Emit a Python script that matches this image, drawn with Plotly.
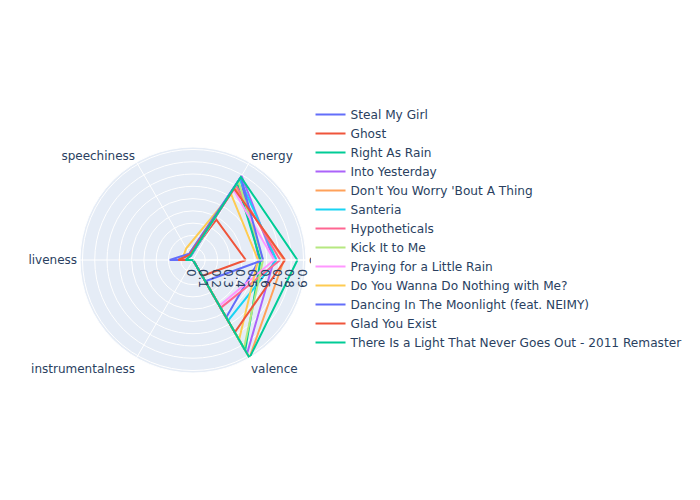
import plotly.graph_objects as go

features = ["danceability", "energy", "speechiness", "liveness", "instrumentalness", "valence"]

songs = [
    "Steal My Girl",
    "Ghost",
    "Right As Rain",
    "Into Yesterday",
    "Don't You Worry 'Bout A Thing",
    "Santeria",
    "Hypotheticals",
    "Kick It to Me",
    "Praying for a Little Rain",
    "Do You Wanna Do Nothing with Me?",
    "Dancing In The Moonlight (feat. NEIMY)",
    "Glad You Exist",
    "There Is a Light That Never Goes Out - 2011 Remaster",
]

steal_my_girl = [0.54, 0.77, 0.035, 0.11, 0.0, 0.54]
ghost = [0.43, 0.38, 0.05, 0.10, 0.0, 0.15]
right_as_rain = [0.55, 0.72, 0.04, 0.10, 0.0, 0.85]
into_yesterday = [0.66, 0.79, 0.05, 0.12, 0.0, 0.88]
dont_you_worry = [0.74, 0.68, 0.06, 0.12, 0.0, 0.92]
santeria = [0.68, 0.76, 0.05, 0.12, 0.0, 0.57]
hypotheticals = [0.71, 0.70, 0.05, 0.10, 0.0, 0.45]
kick_it_to_me = [0.57, 0.74, 0.05, 0.10, 0.0, 0.83]
praying = [0.66, 0.66, 0.04, 0.10, 0.0, 0.43]
do_you_wanna = [0.53, 0.62, 0.11, 0.09, 0.0, 0.75]
dancing_moonlight = [0.57, 0.78, 0.06, 0.19, 0.0, 0.20]
glad_you_exist = [0.75, 0.67, 0.05, 0.12, 0.0, 0.68]
there_is_a_light = [0.85, 0.78, 0.04, 0.06, 0.0, 0.92]

values = [
    steal_my_girl, ghost, right_as_rain, into_yesterday, dont_you_worry,
    santeria, hypotheticals, kick_it_to_me, praying, do_you_wanna,
    dancing_moonlight, glad_you_exist, there_is_a_light,
]

fig = go.Figure()
for name, vals in zip(songs, values):
    fig.add_trace(go.Scatterpolar(
        r=vals + [vals[0]],
        theta=features + [features[0]],
        mode="lines",
        name=name,
    ))

fig.update_layout(
    width=700, height=500,
    font=dict(family="DejaVu Sans"),
    legend=dict(font=dict(size=12.15)),
)
fig.write_html("out.html")
